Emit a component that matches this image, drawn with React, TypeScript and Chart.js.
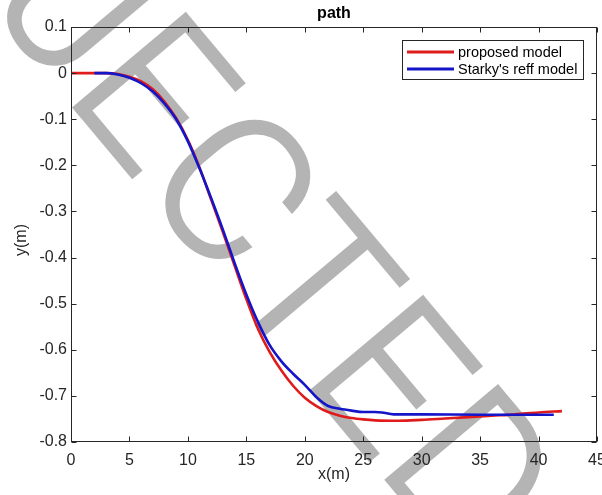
import React, { useEffect, useRef } from "react";
import { Chart, registerables } from "chart.js";

Chart.register(...registerables);

const TITLE = "path";
const X_TITLE = "x(m)";
const Y_TITLE = "y(m)";
const WATERMARK = "REJECTED";
const SERIES_LABELS = ["proposed model", "Starky's reff model"];
const X_TICKS = [0, 5, 10, 15, 20, 25, 30, 35, 40, 45];
const Y_TICKS = [0.1, 0, -0.1, -0.2, -0.3, -0.4, -0.5, -0.6, -0.7, -0.8];

const proposedX = [0, 2, 3, 4, 5, 6, 7, 8, 9, 10, 11, 12, 13, 14, 15, 16, 17, 18, 19, 20, 21, 22, 23, 24, 25, 26, 28, 30, 32, 34, 36, 38, 40, 42];
const proposedY = [0, 0, 0, -0.002, -0.008, -0.018, -0.035, -0.062, -0.098, -0.145, -0.205, -0.275, -0.345, -0.418, -0.49, -0.555, -0.605, -0.645, -0.678, -0.704, -0.722, -0.735, -0.743, -0.748, -0.751, -0.753, -0.754, -0.752, -0.749, -0.746, -0.743, -0.74, -0.736, -0.733];

const starkyX = [2, 3, 4, 5, 6, 7, 8, 9, 10, 11, 12, 13, 14, 15, 16, 17, 18, 19, 20, 21, 22, 23, 24, 25, 26, 26.6, 27.6, 30, 35, 41.3];
const starkyY = [0, 0, -0.003, -0.01, -0.022, -0.04, -0.066, -0.1, -0.148, -0.207, -0.272, -0.34, -0.412, -0.48, -0.54, -0.59, -0.625, -0.652, -0.676, -0.703, -0.722, -0.728, -0.732, -0.735, -0.735, -0.736, -0.74, -0.74, -0.741, -0.741];

const RED = "#e01b1b";
const BLUE = "#1414c8";
const AXIS = "#262626";
const FONT = "'Liberation Sans', Arial, Helvetica, sans-serif";

const decorPlugin = {
  id: "decor",
  beforeDraw(chart: any) {
    const { ctx, width, height } = chart;
    ctx.save();
    ctx.fillStyle = "#ffffff";
    ctx.fillRect(0, 0, width, height);
    ctx.translate(-169, -182);
    ctx.rotate((50 * Math.PI) / 180);
    ctx.font = "300 205px Roboto";
    ctx.fillStyle = "#b4b4b4";
    ctx.strokeStyle = "#b4b4b4";
    ctx.lineWidth = 3;
    ctx.lineJoin = "miter";
    ctx.textAlign = "left";
    ctx.textBaseline = "alphabetic";
    ctx.fillText(WATERMARK, 0, 0);
    ctx.strokeText(WATERMARK, 0, 0);
    ctx.restore();
  },
  afterDraw(chart: any) {
    const { ctx, chartArea: a, scales } = chart;
    const xs = scales.x;
    const ys = scales.y;
    ctx.save();
    ctx.strokeStyle = AXIS;
    ctx.lineWidth = 1;
    const L = Math.round(a.left) + 0.5;
    const R = Math.round(a.right) - 0.5;
    const T = Math.round(a.top) + 0.5;
    const B = Math.round(a.bottom) - 0.5;
    ctx.strokeRect(L, T, R - L, B - T);
    ctx.beginPath();
    for (const v of X_TICKS) {
      const p = Math.round(xs.getPixelForValue(v)) + 0.5;
      ctx.moveTo(p, B);
      ctx.lineTo(p, B - 5);
      ctx.moveTo(p, T);
      ctx.lineTo(p, T + 5);
    }
    for (const v of Y_TICKS) {
      const p = Math.round(ys.getPixelForValue(v)) + 0.5;
      ctx.moveTo(L, p);
      ctx.lineTo(L + 5, p);
      ctx.moveTo(R, p);
      ctx.lineTo(R - 5, p);
    }
    ctx.stroke();

    const cx = (a.left + a.right) / 2;
    ctx.fillStyle = "#000";
    ctx.font = `bold 16px ${FONT}`;
    ctx.textAlign = "center";
    ctx.textBaseline = "alphabetic";
    ctx.fillText(TITLE, cx, 18);

    ctx.fillStyle = AXIS;
    ctx.font = `16px ${FONT}`;
    ctx.textBaseline = "middle";
    ctx.fillText(X_TITLE, cx, 475);
    ctx.save();
    ctx.translate(22, 240);
    ctx.rotate(-Math.PI / 2);
    ctx.fillText(Y_TITLE, 0, 0);
    ctx.restore();

    // legend
    const lx = 402.5, ly = 40.5, lw = 181, lh = 39;
    ctx.fillStyle = "#fff";
    ctx.fillRect(lx, ly, lw, lh);
    ctx.strokeStyle = AXIS;
    ctx.lineWidth = 1;
    ctx.strokeRect(lx, ly, lw, lh);
    ctx.font = `14.5px ${FONT}`;
    ctx.textAlign = "left";
    ctx.textBaseline = "middle";
    chart.data.datasets.forEach((ds: any, i: number) => {
      const y = 52 + i * 17;
      ctx.strokeStyle = ds.borderColor;
      ctx.lineWidth = 3;
      ctx.beginPath();
      ctx.moveTo(407, y);
      ctx.lineTo(454, y);
      ctx.stroke();
      ctx.fillStyle = "#000";
      ctx.fillText(ds.label, 458, y + 0.5);
    });
    ctx.restore();
  },
};

export default function App() {
  const ref = useRef<HTMLCanvasElement | null>(null);
  useEffect(() => {
    if (!ref.current) return;
    const chart = new Chart(ref.current, {
      type: "scatter",
      data: {
        datasets: [
          {
            label: SERIES_LABELS[0],
            data: proposedX.map((x, i) => ({ x, y: proposedY[i] })),
            showLine: true,
            borderColor: RED,
            backgroundColor: RED,
            borderWidth: 2.6,
            pointRadius: 0,
            cubicInterpolationMode: "monotone",
            order: 1,
          },
          {
            label: SERIES_LABELS[1],
            data: starkyX.map((x, i) => ({ x, y: starkyY[i] })),
            showLine: true,
            borderColor: BLUE,
            backgroundColor: BLUE,
            borderWidth: 2.6,
            pointRadius: 0,
            cubicInterpolationMode: "monotone",
            order: 0,
          },
        ],
      },
      options: {
        responsive: false,
        animation: false,
        devicePixelRatio: 1,
        layout: { padding: { top: 27, right: 5, left: 0, bottom: 0 } },
        plugins: {
          legend: { display: false },
          title: { display: false },
          tooltip: { enabled: false },
        },
        scales: {
          x: {
            type: "linear",
            min: 0,
            max: 45,
            afterBuildTicks: (s: any) => {
              s.ticks = X_TICKS.map((v) => ({ value: v }));
            },
            afterFit: (s: any) => {
              s.height = 53;
              s.paddingLeft = 0;
              s.paddingRight = 0;
            },
            grid: { display: false, drawTicks: false },
            border: { display: false },
            ticks: {
              color: AXIS,
              font: { family: FONT, size: 16 },
              padding: 9,
              maxRotation: 0,
              autoSkip: false,
              callback: (v: any) => String(v),
            },
          },
          y: {
            type: "linear",
            min: -0.8,
            max: 0.1,
            afterBuildTicks: (s: any) => {
              s.ticks = Y_TICKS.map((v) => ({ value: v }));
            },
            afterFit: (s: any) => {
              s.width = 71;
              s.paddingTop = 0;
              s.paddingBottom = 0;
            },
            grid: { display: false, drawTicks: false },
            border: { display: false },
            ticks: {
              color: AXIS,
              font: { family: FONT, size: 16 },
              padding: 4,
              autoSkip: false,
              callback: (v: any) => String(Number(Number(v).toFixed(1))),
            },
          },
        },
      },
      plugins: [decorPlugin],
    } as any);
    return () => chart.destroy();
  }, []);
  return (
    <div style={{ position: "absolute", left: 0, top: 0, width: 602, height: 495 }}>
      <canvas ref={ref} width={602} height={495} />
    </div>
  );
}
